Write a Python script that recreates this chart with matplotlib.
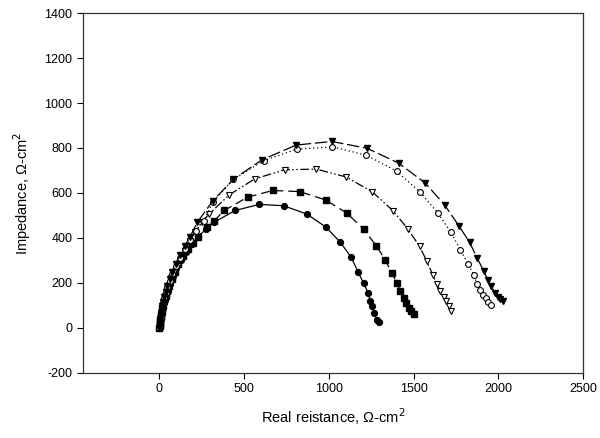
import matplotlib
matplotlib.use("Agg")
import matplotlib.pyplot as plt

plt.rcParams['font.family'] = ['Liberation Sans', 'DejaVu Sans']
plt.rcParams['axes.unicode_minus'] = False

# Series 1: filled circles, solid line
s1_x = [0, 1, 2, 3, 5, 7, 9, 12, 15, 19, 24, 30, 38, 48, 62, 80, 100, 125, 155, 190, 230, 276, 323, 447, 589, 732, 870, 982, 1067, 1132, 1171, 1204, 1230, 1244, 1255, 1267, 1283, 1293]
s1_y = [0, 6, 12, 20, 30, 40, 50, 62, 75, 90, 105, 122, 142, 165, 195, 230, 265, 300, 338, 372, 406, 440, 470, 522, 549, 543, 506, 448, 381, 313, 250, 199, 157, 120, 95, 65, 36, 24]

# Series 2: filled squares, dashed line
s2_x = [0, 1, 2, 4, 6, 8, 11, 14, 18, 23, 29, 36, 45, 57, 72, 90, 112, 138, 168, 201, 227, 280, 323, 382, 520, 669, 827, 980, 1106, 1204, 1279, 1332, 1372, 1401, 1421, 1441, 1456, 1470, 1486, 1500]
s2_y = [0, 7, 14, 24, 35, 46, 58, 72, 86, 102, 120, 140, 162, 188, 218, 250, 284, 318, 350, 377, 406, 448, 476, 522, 581, 611, 606, 569, 510, 439, 365, 302, 243, 199, 162, 132, 110, 88, 73, 62]

# Series 3: open down-triangles, dash-dot-dot line
s3_x = [0, 1, 2, 3, 5, 7, 10, 13, 17, 22, 28, 35, 44, 55, 68, 86, 109, 130, 152, 178, 207, 250, 295, 413, 561, 738, 925, 1102, 1257, 1378, 1466, 1535, 1578, 1614, 1637, 1657, 1676, 1692, 1706, 1720]
s3_y = [0, 7, 14, 22, 33, 44, 56, 70, 85, 102, 121, 142, 166, 192, 220, 250, 273, 308, 343, 385, 426, 470, 508, 592, 662, 703, 706, 671, 604, 521, 439, 362, 295, 233, 194, 162, 135, 117, 95, 76]

# Series 4: open circles, dotted line
s4_x = [0, 1, 2, 4, 6, 8, 11, 14, 18, 23, 29, 37, 47, 60, 76, 96, 120, 148, 180, 218, 262, 315, 437, 614, 811, 1021, 1220, 1401, 1539, 1643, 1720, 1775, 1821, 1854, 1874, 1893, 1909, 1924, 1940, 1958]
s4_y = [0, 8, 16, 26, 38, 50, 63, 78, 94, 112, 132, 155, 180, 208, 240, 275, 312, 350, 390, 432, 476, 560, 661, 743, 795, 805, 768, 696, 603, 510, 424, 347, 283, 236, 194, 169, 147, 132, 113, 102]

# Series 5: filled down-triangles, long-dashed line
s5_x = [0, 1, 2, 4, 6, 8, 11, 14, 18, 23, 29, 37, 47, 60, 76, 96, 120, 148, 180, 224, 315, 437, 604, 807, 1016, 1224, 1411, 1568, 1682, 1769, 1830, 1874, 1913, 1936, 1956, 1982, 1998, 2011, 2027]
s5_y = [0, 8, 16, 27, 39, 51, 65, 80, 97, 115, 136, 160, 186, 215, 248, 284, 322, 362, 404, 470, 565, 661, 747, 813, 829, 799, 733, 644, 547, 451, 380, 310, 254, 214, 184, 154, 139, 128, 117]

x_ticks = [0, 500, 1000, 1500, 2000, 2500]
y_ticks = [-200, 0, 200, 400, 600, 800, 1000, 1200, 1400]

fig = plt.figure(figsize=(6.0, 4.38), dpi=100)
ax = fig.add_axes([0.138, 0.149, 0.834, 0.821])

ms = 4.2
ax.plot(s1_x, s1_y, color='black', lw=0.9, ls='-', marker='o', ms=ms,
        mfc='black', mec='black')
ax.plot(s2_x, s2_y, color='black', lw=0.9, ls=(0, (7, 4)), marker='s', ms=ms - 0.4,
        mfc='black', mec='black')
ax.plot(s3_x, s3_y, color='black', lw=0.9, ls=(0, (7, 2, 1.2, 2, 1.2, 2)), marker='v', ms=ms + 0.4,
        mfc='white', mec='black', mew=0.8)
ax.plot(s4_x, s4_y, color='black', lw=0.9, ls=(0, (1, 2.2)), marker='o', ms=ms,
        mfc='white', mec='black', mew=0.8)
ax.plot(s5_x, s5_y, color='black', lw=0.9, ls=(0, (10, 3)), marker='v', ms=ms + 0.4,
        mfc='black', mec='black')

ax.set_xlim(-452, 2500)
ax.set_ylim(-200, 1400)
ax.set_xticks(x_ticks)
ax.set_yticks(y_ticks)
ax.tick_params(direction='out', length=4, width=0.8, labelsize=9, colors='black',
               top=False, right=False)
for sp in ax.spines.values():
    sp.set_linewidth(0.9)
    sp.set_color('#333333')

ax.set_xlabel('Real reistance, \u03a9-cm$^2$', fontsize=10.5, labelpad=8)
ax.set_ylabel('Impedance, \u03a9-cm$^2$', fontsize=10.5, labelpad=8)

fig.savefig('out.png', dpi=100)
